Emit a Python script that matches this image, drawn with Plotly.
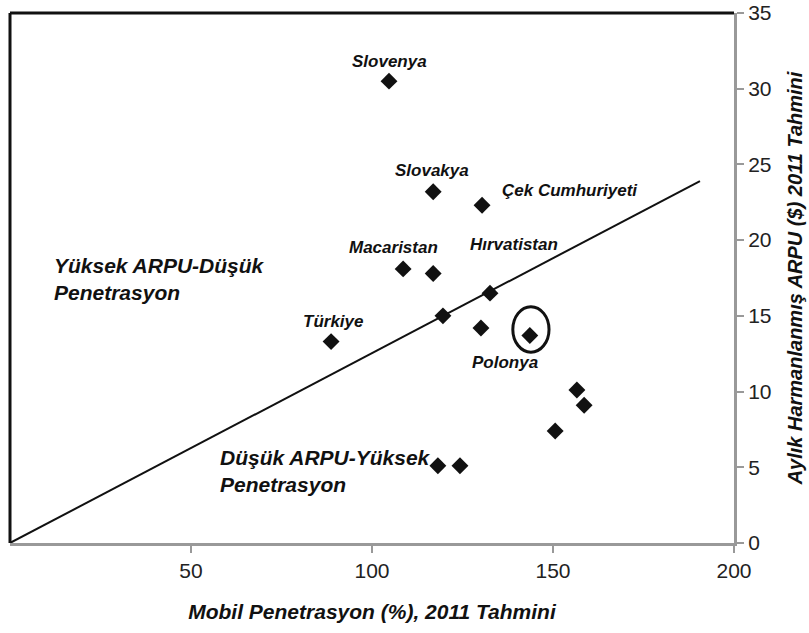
import plotly.graph_objects as go

# Data: (Mobil Penetrasyon %, ARPU $)
penetration = [104.7, 116.9, 130.4, 108.6, 116.9, 132.6, 119.6, 130.1, 88.7, 143.6,
               156.6, 158.6, 150.6, 118.2, 124.3]
arpu = [30.5, 23.2, 22.3, 18.1, 17.8, 16.5, 15.0, 14.2, 13.3, 13.7,
        10.1, 9.1, 7.4, 5.1, 5.1]

trend_x = [0, 190.6]
trend_y = [0, 23.9]

x_ticks = [50, 100, 150, 200]
y_ticks = [0, 5, 10, 15, 20, 25, 30, 35]

country_labels = ["Slovenya", "Slovakya", "Çek Cumhuriyeti", "Macaristan",
                  "Hırvatistan", "Türkiye", "Polonya"]
label_x = [104.7, 116.6, 154.7, 105.8, 139.2, 89.2, 136.7]
label_y = [31.8, 24.6, 23.3, 19.5, 19.7, 14.6, 11.9]

region_labels = [["Yüksek ARPU-Düşük", "Penetrasyon"], ["Düşük ARPU-Yüksek", "Penetrasyon"]]
region_x = [11.6, 57.5]
region_y = [17.43, 4.75]

TXT = "#111111"
FAM = "Liberation Sans, Arial, sans-serif"

fig = go.Figure()
fig.add_trace(go.Scatter(x=trend_x, y=trend_y, mode="lines",
                         line=dict(color="#111111", width=2), hoverinfo="skip",
                         showlegend=False))
fig.add_trace(go.Scatter(x=penetration, y=arpu, mode="markers",
                         marker=dict(symbol="diamond", size=13, color="#111111"),
                         showlegend=False))

annotations = []
for t, x, y in zip(country_labels, label_x, label_y):
    annotations.append(dict(x=x, y=y, xref="x", yref="y", text="<b><i>%s</i></b>" % t,
                            showarrow=False, xanchor="center", yanchor="middle",
                            font=dict(family=FAM, size=17, color=TXT)))
for lines, x, y in zip(region_labels, region_x, region_y):
    annotations.append(dict(x=x, y=y, xref="x", yref="y",
                            text="<br>".join("<b><i>%s</i></b>" % s for s in lines),
                            showarrow=False, xanchor="left", yanchor="middle", align="left",
                            font=dict(family=FAM, size=21, color=TXT)))

shapes = [
    dict(type="line", xref="paper", yref="paper", x0=0, x1=0, y0=0, y1=1,
         line=dict(color="#111111", width=3)),
    dict(type="line", xref="paper", yref="paper", x0=0, x1=1, y0=1, y1=1,
         line=dict(color="#111111", width=3)),
    dict(type="circle", xref="x", yref="y", x0=138.9, x1=148.9, y0=12.6, y1=15.6,
         line=dict(color="#111111", width=3)),
]

fig.update_layout(
    width=809, height=633,
    margin=dict(l=10, r=75, t=13, b=90, autoexpand=False),
    paper_bgcolor="white", plot_bgcolor="white",
    annotations=annotations, shapes=shapes,
    xaxis=dict(range=[0, 200], tickvals=x_ticks, ticks="outside", ticklen=7,
               tickwidth=2, tickcolor="#999999", showline=True, linecolor="#999999",
               linewidth=3, showgrid=False, zeroline=False, automargin=False,
               ticklabeloverflow="allow",
               tickfont=dict(family=FAM, size=21, color="#222222"),
               title=dict(text="<b><i>Mobil Penetrasyon (%), 2011 Tahmini</i></b>",
                          font=dict(family=FAM, size=21, color=TXT),
                          standoff=24)),
    yaxis=dict(range=[0, 35], tickvals=y_ticks, side="right", ticks="outside", ticklen=7,
               tickwidth=2, tickcolor="#999999", showline=True, linecolor="#999999",
               linewidth=3, showgrid=False, zeroline=False, automargin=False,
               ticklabeloverflow="allow",
               tickfont=dict(family=FAM, size=21, color="#222222"),
               title=dict(text="<b><i>Aylık Harmanlanmış ARPU ($) 2011 Tahmini</i></b>",
                          font=dict(family=FAM, size=20, color=TXT),
                          standoff=18)),
)

fig.write_html("out.html", config={"displayModeBar": False},
               post_script="document.body.style.margin='0';")
